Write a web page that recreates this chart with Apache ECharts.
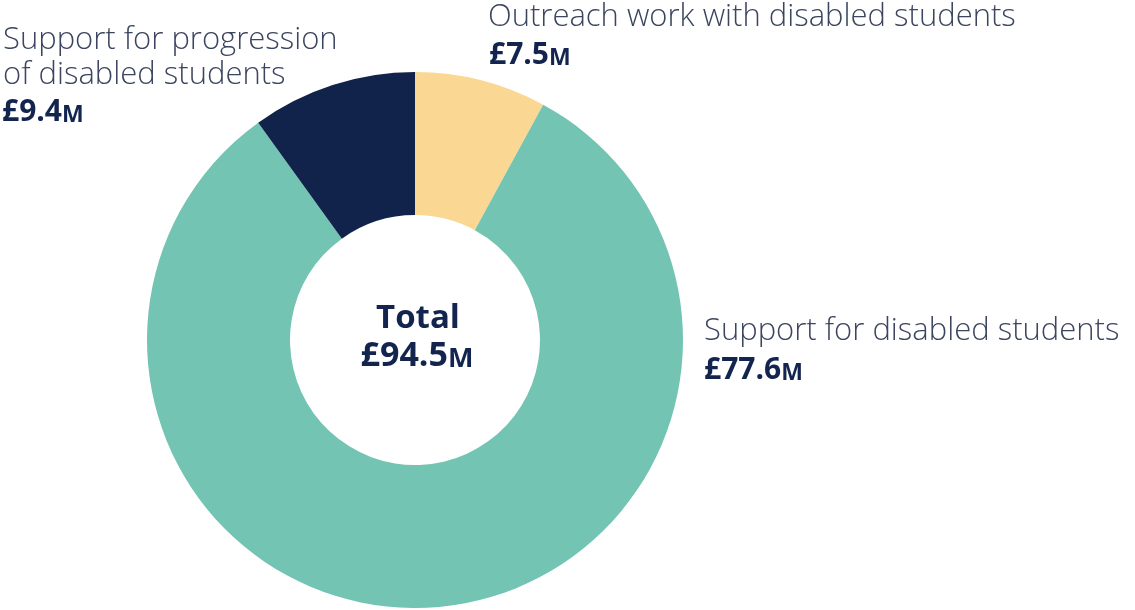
<!DOCTYPE html>
<html>
<head>
<meta charset="utf-8">
<script src="https://cdn.jsdelivr.net/npm/echarts@6/dist/echarts.min.js"></script>
<style>
  html, body { margin: 0; padding: 0; background: #fff; }
  #donut { width: 1135px; height: 610px; }
</style>
</head>
<body>
<div id="donut"></div>
<script>
  // slices, clockwise from 12 o'clock
  var names = ['Outreach work with disabled students', 'Support for disabled students', 'Support for progression of disabled students'];
  var values = [7.5, 77.6, 9.4];
  var colors = ['#fad894', '#74c4b3', '#11224b'];
  var totalLabel = 'Total';
  var total = 94.5;

  var navy = '#13254f';
  var grey = '#3b4560';
  var font = '"Open Sans", sans-serif';

  var chart = echarts.init(document.getElementById('donut'));

  function nameLine(txt, x, y) {
    return {
      type: 'text', x: x, y: y, silent: true,
      style: { text: txt, fill: grey, fontFamily: font, fontWeight: 300, fontSize: 31, verticalAlign: 'middle' }
    };
  }
  function valueLine(v, x, y, size, align) {
    return {
      type: 'text', x: x, y: y, silent: true,
      style: {
        text: '{v|£' + v.toFixed(1) + '}{m|M}',
        align: align || 'left',
        verticalAlign: 'middle',
        rich: {
          v: { fill: navy, fontFamily: font, fontWeight: 700, fontSize: size, verticalAlign: 'bottom', lineHeight: size },
          m: { fill: navy, fontFamily: font, fontWeight: 700, fontSize: Math.round(size * 0.78), verticalAlign: 'bottom', lineHeight: size }
        }
      }
    };
  }

  var data = names.map(function (n, i) {
    return { name: n, value: values[i], itemStyle: { color: colors[i] } };
  });

  chart.setOption({
    animation: false,
    series: [{
      type: 'pie',
      center: [415, 340],
      radius: [125, 268],
      startAngle: 90,
      clockwise: true,
      label: { show: false },
      labelLine: { show: false },
      itemStyle: { borderWidth: 0 },
      data: data
    }],
    graphic: [
      nameLine('Outreach work with disabled students', 488, 17),
      valueLine(values[0], 489, 55, 30),
      nameLine('Support for disabled students', 704, 331),
      valueLine(values[1], 704, 370, 30),
      nameLine('Support for progression', 3, 40),
      nameLine('of disabled students', 3, 75),
      valueLine(values[2], 2, 112, 30),
      {
        type: 'text', x: 418, y: 319, silent: true,
        style: { text: totalLabel, align: 'center', verticalAlign: 'middle', fill: navy, fontFamily: font, fontWeight: 700, fontSize: 33 }
      },
      valueLine(total, 417, 356, 34, 'center')
    ]
  });
</script>
</body>
</html>
